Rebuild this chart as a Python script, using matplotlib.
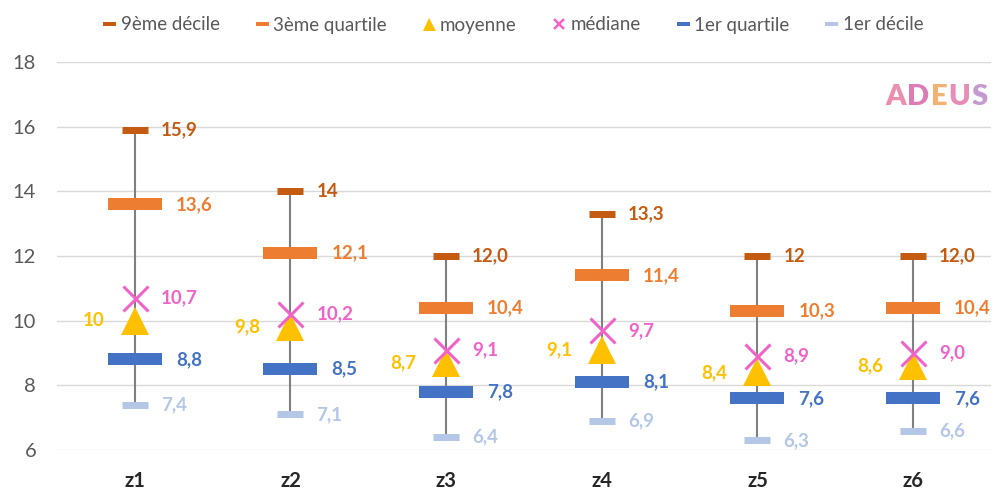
import matplotlib
matplotlib.use("Agg")
import matplotlib.pyplot as plt
from matplotlib.lines import Line2D
import numpy as np

plt.rcParams["font.family"] = ["Lato", "DejaVu Sans"]

zones = ["z1", "z2", "z3", "z4", "z5", "z6"]
decile9 = [15.9, 14.0, 12.0, 13.3, 12.0, 12.0]
quartile3 = [13.6, 12.1, 10.4, 11.4, 10.3, 10.4]
moyenne = [10.0, 9.8, 8.7, 9.1, 8.4, 8.6]
mediane = [10.7, 10.2, 9.1, 9.7, 8.9, 9.0]
quartile1 = [8.8, 8.5, 7.8, 8.1, 7.6, 7.6]
decile1 = [7.4, 7.1, 6.4, 6.9, 6.3, 6.6]

lbl_d9 = ["15,9", "14", "12,0", "13,3", "12", "12,0"]
lbl_q3 = ["13,6", "12,1", "10,4", "11,4", "10,3", "10,4"]
lbl_moy = ["10", "9,8", "8,7", "9,1", "8,4", "8,6"]
lbl_med = ["10,7", "10,2", "9,1", "9,7", "8,9", "9,0"]
lbl_q1 = ["8,8", "8,5", "7,8", "8,1", "7,6", "7,6"]
lbl_d1 = ["7,4", "7,1", "6,4", "6,9", "6,3", "6,6"]

c_d9 = "#C55A11"
c_q3 = "#ED7D31"
c_moy = "#FFC000"
c_med = "#F062C8"
c_q1 = "#4472C4"
c_d1 = "#B4C7E7"

W, H = 995, 492
fig = plt.figure(figsize=(W / 100, H / 100), dpi=100)
ax = fig.add_axes([57 / W, 42 / H, 934 / W, 388 / H])

x = np.arange(len(zones))
ax.set_xlim(-0.5, len(zones) - 0.5)
ax.set_ylim(6, 18)
ax.set_yticks(range(6, 19, 2))
ax.yaxis.grid(True, color="#D9D9D9", lw=1)
ax.set_axisbelow(True)
for s in ax.spines.values():
    s.set_visible(False)
ax.tick_params(axis="both", length=0)
ax.tick_params(axis="y", labelsize=14.5, labelcolor="#595959", pad=15)
ax.set_xticks(x)
ax.set_xticklabels(zones, fontsize=14.5, fontweight="bold", color="#262626")
ax.tick_params(axis="x", pad=15)

# high-low lines
ax.vlines(x, decile1, decile9, color="#808080", lw=1.5, zorder=2)

px = 0.72  # points per pixel
ax.plot(x, decile9, ls="none", marker="_", ms=27 * px, mew=7 * px, color=c_d9, zorder=3)
ax.plot(x, quartile3, ls="none", marker="_", ms=54 * px, mew=12 * px, color=c_q3, zorder=3)
ax.plot(x, quartile1, ls="none", marker="_", ms=54 * px, mew=12 * px, color=c_q1, zorder=3)
ax.plot(x, decile1, ls="none", marker="_", ms=27 * px, mew=7 * px, color=c_d1, zorder=3)
ax.plot(x, moyenne, ls="none", marker="^", ms=28 * px, mew=0, color=c_moy, zorder=4)
ax.plot(x, mediane, ls="none", marker="x", ms=25 * px, mew=3 * px, color=c_med, zorder=5)

def put_labels(vals, labels, color, dx, ha):
    for xi, v, t in zip(x, vals, labels):
        ax.annotate(t, (xi, v), xytext=(dx * px, 0), textcoords="offset points",
                    ha=ha, va="center", fontsize=13.5, fontweight="bold", color=color)

put_labels(decile9, lbl_d9, c_d9, 26, "left")
put_labels(quartile3, lbl_q3, c_q3, 41, "left")
put_labels(mediane, lbl_med, c_med, 26, "left")
put_labels(quartile1, lbl_q1, c_q1, 41, "left")
put_labels(decile1, lbl_d1, c_d1, 26, "left")
put_labels(moyenne, lbl_moy, c_moy, -30, "right")

# legend
handles = [
    Line2D([], [], ls="none", marker="_", ms=13 * px, mew=4 * px, color=c_d9),
    Line2D([], [], ls="none", marker="_", ms=13 * px, mew=4 * px, color=c_q3),
    Line2D([], [], ls="none", marker="^", ms=13 * px, mew=0, color=c_moy),
    Line2D([], [], ls="none", marker="x", ms=10 * px, mew=2.5 * px, color=c_med),
    Line2D([], [], ls="none", marker="_", ms=13 * px, mew=4 * px, color=c_q1),
    Line2D([], [], ls="none", marker="_", ms=13 * px, mew=4 * px, color=c_d1),
]
names = ["9ème décile", "3ème quartile", "moyenne", "médiane", "1er quartile", "1er décile"]
fig.legend(handles, names, loc="center", bbox_to_anchor=(513 / W, 1 - 25 / H), ncol=6,
           frameon=False, fontsize=13.5, labelcolor="#595959", handlelength=0.7,
           handletextpad=0.25, columnspacing=1.9)

# ADEUS logo, letters chained one after the other
logo = "ADEUS"
logo_cols = ["#E97AA0", "#D765A8", "#F2A45A", "#E47AA8", "#B98AC8"]
prev = None
for ch, col in zip(logo, logo_cols):
    if prev is None:
        prev = ax.annotate(ch, xy=(885 / W, 1 - 97 / H), xycoords="figure fraction",
                           ha="left", va="center", color=col, fontsize=21,
                           fontweight="heavy", alpha=0.85, annotation_clip=False)
    else:
        prev = ax.annotate(ch, xy=(1, 0.5), xycoords=prev, xytext=(1, 0),
                           textcoords="offset points", ha="left", va="center",
                           color=col, fontsize=21, fontweight="heavy", alpha=0.85,
                           annotation_clip=False)

fig.savefig("out.png", dpi=100, facecolor="white")
